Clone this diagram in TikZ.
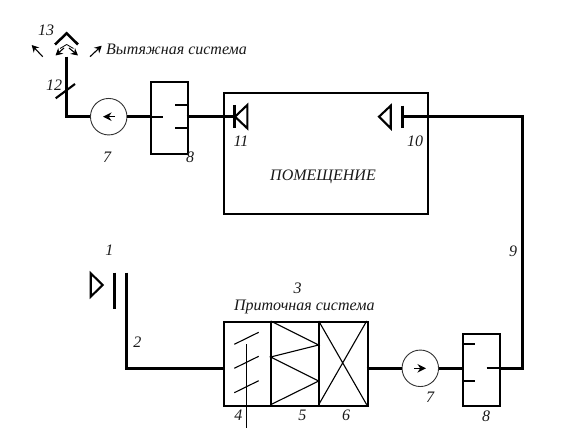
\documentclass[tikz,border=0pt]{standalone}
\usepackage{fontspec}
\setmainfont{Liberation Serif}
\usetikzlibrary{arrows.meta}
\tikzset{
  lab/.style={inner sep=0pt,font=\fontsize{16}{18}\selectfont\itshape,text=black!90},
  duct/.style={line width=2.9pt,line join=miter},
  wall/.style={line width=2.1pt,line join=miter},
  thin line/.style={line width=1.1pt},
  fan/.style={circle,draw=black!80,line width=0.9pt,minimum size=36.5pt,inner sep=0pt,fill=white},
  tip/.style={-{Stealth[length=7pt,width=7.5pt]},line width=1.1pt},
  fantip/.style={-{Stealth[length=8.5pt,width=8.5pt]},line width=1.3pt},
}
\begin{document}
\begin{tikzpicture}[x=1pt,y=-1pt]
\useasboundingbox[fill=white] (0,0) rectangle (572,435);
% coordinates
\coordinate (hoodend) at (66.7,56.7);
\coordinate (corner1) at (66.7,116.7);
\coordinate (e8l) at (150,116.7);
\coordinate (e8r) at (186.7,116.7);
\coordinate (d11) at (234.3,116.7);
\coordinate (d10) at (402.3,116.7);
\coordinate (corner2) at (522.7,116.7);
\coordinate (corner3) at (522.7,368.3);
\coordinate (s8r) at (498.7,368.3);
\coordinate (s8l) at (462.3,368.3);
\coordinate (intake) at (126.3,272.7);
\coordinate (corner4) at (126.3,368.3);
\coordinate (ahul) at (222.7,368.3);
\coordinate (ahur) at (366.7,368.3);
% ducts
\node[fan] (fan1) at (108.7,116.7) {};
\node[fan] (fan2) at (420.3,368.3) {};
\draw[duct] (hoodend) -- (corner1) -- (fan1);
\draw[duct] (fan1) -- (e8l);
\draw[duct] (e8r) -- (d11);
\draw[duct,line width=2.5pt] (d10) -- (corner2) -- (corner3) -- (s8r);
\draw[duct] (intake) -- (corner4) -- (ahul);
\draw[duct] (ahur) -- (fan2);
\draw[duct] (fan2) -- (s8l);
% fan arrows
\draw[fantip] (115,116.7) -- (103,116.7);
\draw[fantip] (414,368.3) -- (426,368.3);
% room
\node[draw,wall,minimum width=204pt,minimum height=121pt,inner sep=0pt,anchor=north west] (room) at (222.7,92.3) {};
% dampers
\draw[duct] (234.3,105) -- (234.3,128.3);
\draw[wall] (247.3,105) -- (235,116.7) -- (247.3,128.3) -- cycle;
\draw[duct] (402.3,105.7) -- (402.3,128.3);
\draw[wall] (390.7,105.7) -- (379,116.7) -- (390.7,128.3) -- cycle;
\draw[duct] (114.3,272.7) -- (114.3,308.7);
\draw[wall] (90.7,273.3) -- (102.7,285) -- (90.7,296.7) -- cycle;
% silencers
\node[draw,wall,minimum width=36.7pt,minimum height=72pt,inner sep=0pt,anchor=north west] (sil1) at (150,80.7) {};
\draw[wall] (150,116.7) -- (162.7,116.7);
\draw[wall] (175,105) -- (186.7,105);
\draw[wall] (175,128.3) -- (186.7,128.3);
\node[draw,wall,minimum width=36.4pt,minimum height=72pt,inner sep=0pt,anchor=north west] (sil2) at (462.3,332.7) {};
\draw[wall] (486.7,368.3) -- (498.7,368.3);
\draw[wall] (462.3,344.3) -- (474.7,344.3);
\draw[wall] (462.3,381) -- (474.7,381);
% AHU
\node[draw,wall,minimum width=144pt,minimum height=83.7pt,inner sep=0pt,anchor=north west] (ahu) at (222.7,321) {};
\draw[line width=2.4pt] (270.7,321) -- (270.7,404.7) (318.7,321) -- (318.7,404.7);
\draw[thin line] (234.3,344.3) -- (258.7,332.3) (234.3,368.3) -- (258.7,356.3) (234.3,392.7) -- (258.7,380.7);
\draw[thin line] (246.7,344.3) -- (246.7,428.3);
\draw[thin line] (270.7,321) -- (318.7,345) -- (270.7,357) -- (318.7,381) -- (270.7,404.7);
\draw[thin line] (318.7,321) -- (366.7,404.7) (366.7,321) -- (318.7,404.7);
% hood
\draw[duct,line width=2.5pt] (55,44.5) -- (66.7,33.3) -- (78,44.5);
\draw[line width=0.8pt] (60,48.5) -- (66.7,44.5) -- (73.5,48.5);
\draw[tip] (64,48) -- (55.5,55.5);
\draw[tip] (69,48) -- (78,55.5);
\draw[tip] (42.7,56.7) -- (31.7,45);
\draw[tip] (90,56.7) -- (101.7,45.7);
\draw[wall] (55.7,98.3) -- (75,84);
% labels
\node[lab] (l13) at (46,30) {13};
\node[lab,anchor=west] (lvyt) at (106,49) {Вытяжная система};
\node[lab] (l12) at (54,85) {12};
\node[lab] (l7a) at (107,157) {7};
\node[lab] (l8a) at (190,157) {8};
\node[lab] (l11) at (241,141) {11};
\node[lab] (l10) at (415,141) {10};
\node[lab] (lroom) at (323,177) {ПОМЕЩЕНИЕ};
\node[lab] (l9) at (513,251) {9};
\node[lab] (l1) at (109.3,250.7) {1};
\node[lab] (l2) at (137.3,342.7) {2};
\node[lab] (l3) at (297.7,288) {3};
\node[lab] (lpr) at (304.3,306.7) {Приточная система};
\node[lab] (l4) at (238.3,415.5) {4};
\node[lab] (l5) at (302.3,415.5) {5};
\node[lab] (l6) at (346,415.5) {6};
\node[lab] (l7b) at (430,397) {7};
\node[lab] (l8b) at (486,416.7) {8};
\end{tikzpicture}
\end{document}
